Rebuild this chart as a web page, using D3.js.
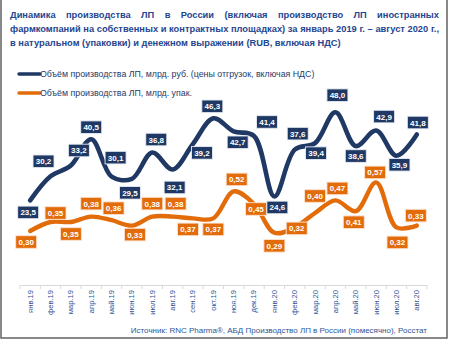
<!DOCTYPE html>
<html>
<head>
<meta charset="utf-8">
<script src="https://cdn.jsdelivr.net/npm/d3@7"></script>
<style>
  html, body { margin: 0; padding: 0; background: #fff; }
  svg { display: block; }
</style>
</head>
<body>
<svg id="chart" width="450" height="342"></svg>
<script>
// Monthly production, Jan 2019 – Aug 2020
const months = ["янв.19","фев.19","мар.19","апр.19","май.19","июн.19","июл.19","авг.19","сен.19","окт.19","ноя.19","дек.19",
                "янв.20","фев.20","мар.20","апр.20","май.20","июн.20","июл.20","авг.20"];
const valueRub = [23.5, 30.2, 33.2, 40.5, 30.1, 29.5, 36.8, 32.1, 39.2, 46.3, 42.7, 41.4,
                  24.6, 37.6, 39.4, 48.0, 38.6, 42.9, 35.9, 41.8];
const valuePacks = [0.30, 0.35, 0.35, 0.38, 0.36, 0.33, 0.38, 0.38, 0.37, 0.37, 0.52, 0.45,
                    0.29, 0.32, 0.40, 0.47, 0.41, 0.57, 0.32, 0.33];
const seriesNames = ["Объём производства ЛП, млрд. руб. (цены отгрузок, включая НДС)",
                     "Объём производства ЛП, млрд. упак."];
const titleLines = ["Динамика производства ЛП в России (включая производство ЛП иностранных",
                    "фармкомпаний на собственных и контрактных площадках) за январь 2019 г. – август 2020 г.,",
                    "в натуральном (упаковки) и денежном выражении (RUB, включая НДС)"];
const sourceText = "Источник: RNC Pharma®, АБД Производство ЛП в России (помесячно), Росстат";

// Label nudges (px) relative to each point: [dx, dy]
const rubLabelShift = [[-2,12],[-7,-15],[8,-15],[0,-12],[4,-19],[-2,14],[4,-13],[2,18],[9,9],[-1,-12],
                       [4,11],[13,-14],[3,11],[3,-16],[1,10],[2,-17],[0,10],[8,-14],[3,9],[1,-12]];
const packLabelShift = [[-4,11],[5,-9],[0,12],[0,-13],[2,-12],[3,9],[0,-13],[3,-13],[-5,11],[0,11],
                        [3,-12],[2,5],[0,13],[2,1],[0,-17],[2,-12],[-2,11],[-1,-10],[1,15],[-1,-10]];

const NAVY = "#1f3864", ORANGE = "#e36c0a", TITLE = "#1f4690", AXISTXT = "#2f5597";
const FONT = "Liberation Sans, Arial, sans-serif";
const svg = d3.select("#chart");

// frame
svg.append("rect").attr("x", 1).attr("y", -4).attr("width", 446).attr("height", 342)
  .attr("fill", "none").attr("stroke", "#6b6b6b").attr("stroke-width", 1.6);

// title: words laid out by hand, first two lines justified, whole block condensed to fit
const tLeft = 10, tRight = 439, tSize = 9.8;
const probe = svg.append("text").attr("font-family", FONT).attr("font-weight", "bold").attr("font-size", tSize);
const measure = s => probe.text(s).node().getComputedTextLength();
const spaceW = measure("a b") - measure("ab");
const widest = d3.max(titleLines.slice(0, 2), l => measure(l.split(" ").join("\u00a0")));
probe.remove();
const squeeze = Math.min(1, (tRight - tLeft) / widest);
const tg = svg.append("g").attr("transform", `translate(${tLeft},0) scale(${squeeze},1)`);
const innerW = (tRight - tLeft) / squeeze;
titleLines.forEach((line, i) => {
  const y = 18.5 + i * 14;
  const words = line.split(" ");
  const nodes = words.map(w => tg.append("text").attr("y", y)
    .attr("font-family", FONT).attr("font-weight", "bold")
    .attr("font-size", tSize).attr("fill", TITLE).text(w));
  const widths = nodes.map(n => n.node().getComputedTextLength());
  const total = d3.sum(widths);
  const gap = i < 2 ? (innerW - total) / (words.length - 1) : spaceW;
  let xx = 0;
  nodes.forEach((n, k) => { n.attr("x", xx); xx += widths[k] + gap; });
});

// legend
[[NAVY, 74], [ORANGE, 93]].forEach(([c, y], i) => {
  svg.append("line").attr("x1", 19).attr("x2", 40).attr("y1", y).attr("y2", y)
    .attr("stroke", c).attr("stroke-width", 3.4).attr("stroke-linecap", "round");
  svg.append("text").attr("x", 40).attr("y", y + 3.2)
    .attr("font-family", FONT).attr("font-size", 8.8)
    .attr("fill", "#253a6a").text(seriesNames[i]);
});

// scales
const x = d3.scaleBand().domain(months).range([20, 427]);
const cx = d => x(d) + x.bandwidth() / 2;
const yRub = d3.scaleLinear().domain([0, 50]).range([285, 105]);
const yPack = d3.scaleLinear().domain([0, 1]).range([285, 105]);

// x axis
const xAxis = d3.axisBottom(x).tickSize(0).tickPadding(4);
const ax = svg.append("g").attr("transform", "translate(0,285)").call(xAxis);
ax.select(".domain").attr("stroke", "#d9d9d9").attr("stroke-width", 1);
ax.selectAll(".tick text")
  .attr("font-family", FONT).attr("font-size", 7.6)
  .attr("fill", AXISTXT)
  .attr("transform", "rotate(-90)").attr("text-anchor", "end")
  .attr("x", -5).attr("y", 0).attr("dy", "0.32em");
// category separators
ax.selectAll(".sep").data(months.concat(["end"])).enter().append("line")
  .attr("x1", (d, i) => 20 + i * x.step()).attr("x2", (d, i) => 20 + i * x.step())
  .attr("y1", 0).attr("y2", 4).attr("stroke", "#d9d9d9");

// lines
const curve = d3.curveCatmullRom.alpha(0.5);
const lineRub = d3.line().x((d, i) => cx(months[i])).y(d => yRub(d)).curve(curve);
const linePack = d3.line().x((d, i) => cx(months[i])).y(d => yPack(d)).curve(curve);
svg.append("path").datum(valueRub).attr("d", lineRub).attr("fill", "none")
  .attr("stroke", NAVY).attr("stroke-width", 4.6).attr("stroke-linecap", "round");
svg.append("path").datum(valuePacks).attr("d", linePack).attr("fill", "none")
  .attr("stroke", ORANGE).attr("stroke-width", 4.4).attr("stroke-linecap", "round");

// data labels
const fmt = (v, d) => v.toFixed(d).replace(".", ",");
function labels(values, yScale, shifts, color, digits, border) {
  const g = svg.append("g");
  values.forEach((v, i) => {
    const px = cx(months[i]) + shifts[i][0];
    const py = yScale(v) + shifts[i][1];
    g.append("rect").attr("x", px - 10.5).attr("y", py - 6.3).attr("width", 21).attr("height", 12.6)
      .attr("fill", color).attr("stroke", border).attr("stroke-width", 0.9);
    g.append("text").attr("x", px).attr("y", py + 3)
      .attr("text-anchor", "middle").attr("font-family", FONT)
      .attr("font-weight", "bold").attr("font-size", 8).attr("fill", "#fff").text(fmt(v, digits));
  });
}
labels(valuePacks, yPack, packLabelShift, ORANGE, 2, "#fbe3d3");
labels(valueRub, yRub, rubLabelShift, NAVY, 1, "#e6ebf3");

// source
svg.append("text").attr("x", 427).attr("y", 333).attr("text-anchor", "end")
  .attr("font-family", FONT).attr("font-size", 8)
  .attr("fill", AXISTXT).text(sourceText);
</script>
</body>
</html>
